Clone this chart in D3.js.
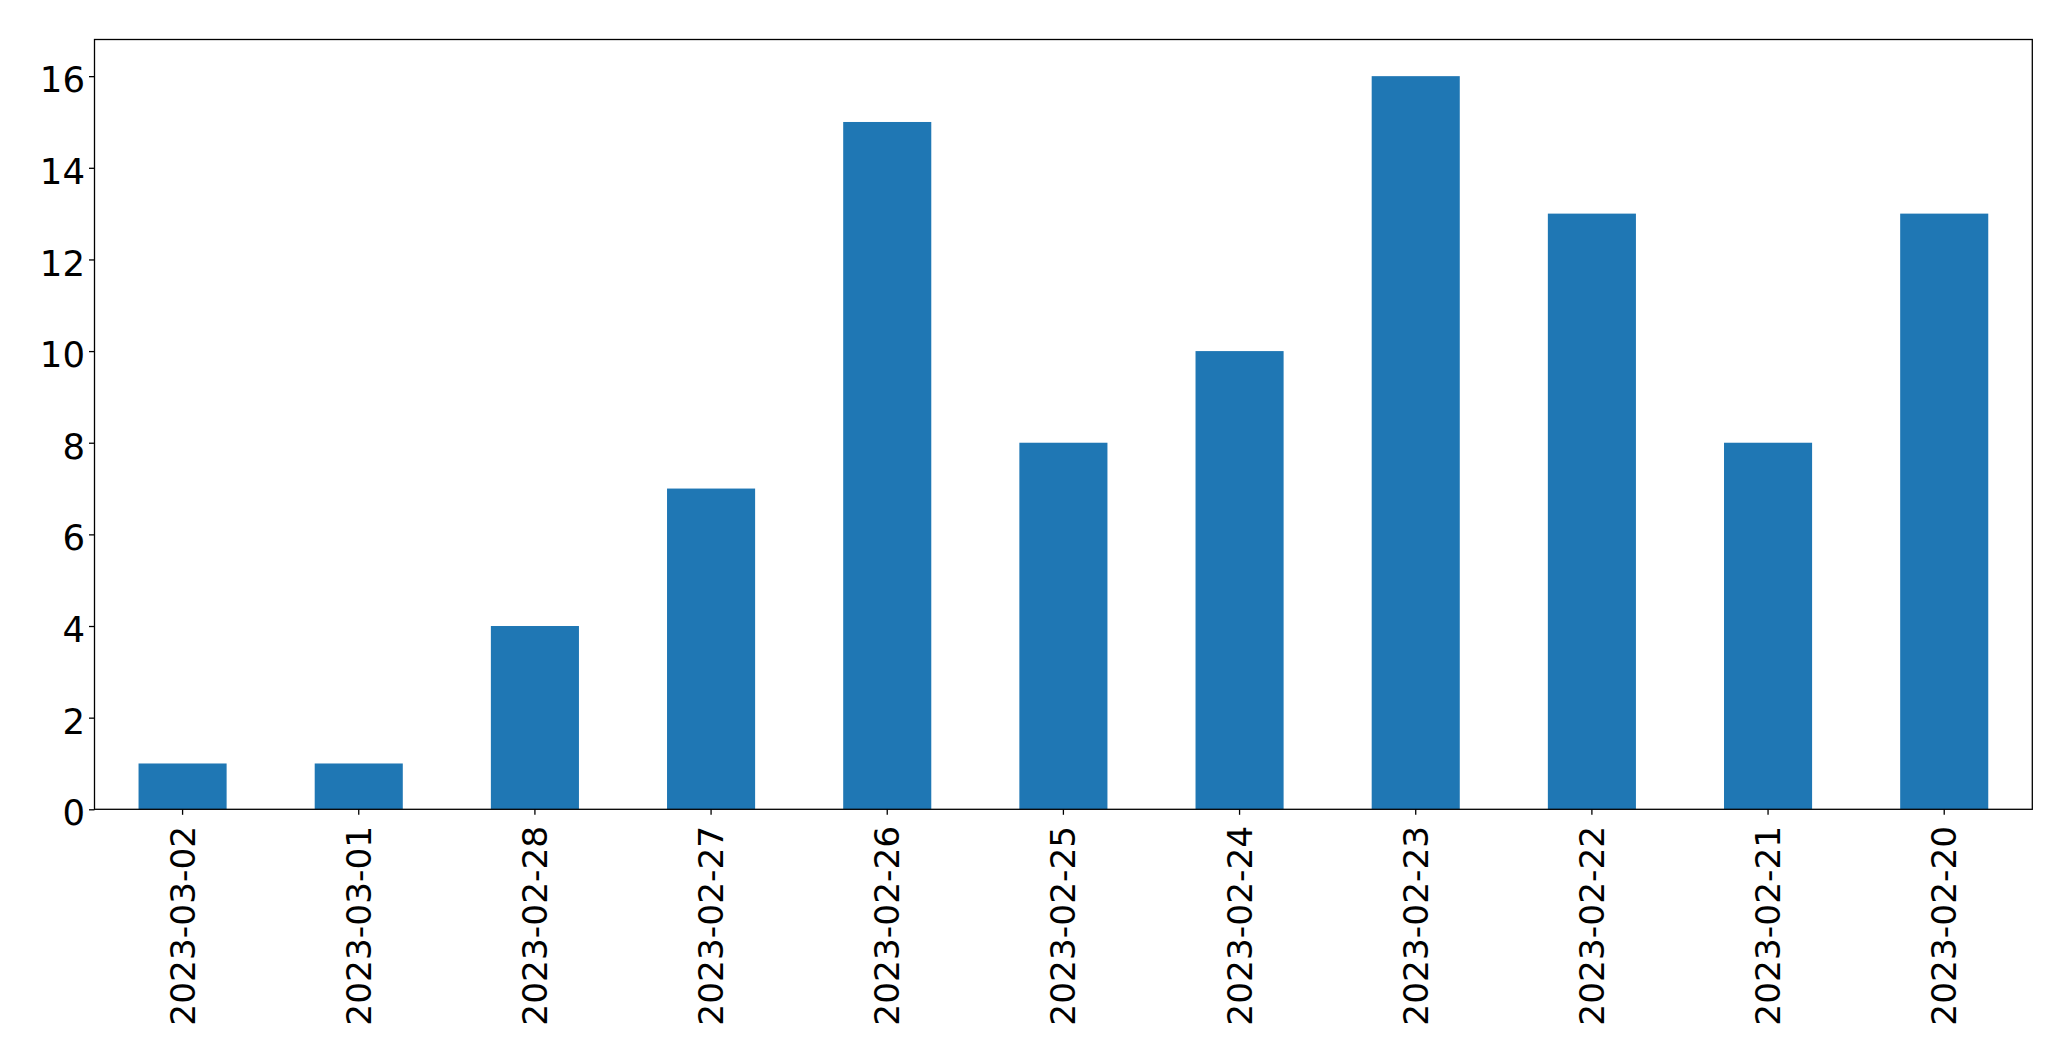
<!DOCTYPE html>
<html>
<head>
<meta charset="utf-8">
<script src="https://cdn.jsdelivr.net/npm/d3@7"></script>
<style>
  html, body { margin: 0; padding: 0; background: #fff; }
  svg { display: block; }
  text { font-family: "DejaVu Sans", sans-serif; fill: #000; }
</style>
</head>
<body>
<svg id="chart" width="2071" height="1061"></svg>
<script>
const categories = ["2023-03-02","2023-03-01","2023-02-28","2023-02-27","2023-02-26","2023-02-25","2023-02-24","2023-02-23","2023-02-22","2023-02-21","2023-02-20"];
const values = [1, 1, 4, 7, 15, 8, 10, 16, 13, 8, 13];
const yTicks = [0, 2, 4, 6, 8, 10, 12, 14, 16];

const plotL = 94.5, plotR = 2032.3, plotT = 39.5, plotB = 809.3;
const yFont = 35.5, xFont = 34.4;

const svg = d3.select("#chart");

const x = d3.scaleBand().domain(categories).range([plotL, plotR]).paddingInner(0.5).paddingOuter(0.25);
const yMax = d3.max(values) * 1.05;
const y = d3.scaleLinear().domain([0, yMax]).range([plotB, plotT]);

svg.append("g").selectAll("rect").data(values).join("rect")
  .attr("x", (d, i) => x(categories[i]))
  .attr("width", x.bandwidth())
  .attr("y", d => y(d))
  .attr("height", d => y(0) - y(d))
  .attr("fill", "#1f77b4");

// frame
svg.append("rect")
  .attr("x", plotL).attr("y", plotT)
  .attr("width", plotR - plotL).attr("height", plotB - plotT)
  .attr("fill", "none").attr("stroke", "#000").attr("stroke-width", 1.3);

// y axis
const yAxis = d3.axisLeft(y).tickValues(yTicks).tickSize(5.5).tickPadding(4).tickFormat(d3.format("d"));
const gy = svg.append("g").attr("transform", `translate(${plotL},0)`).call(yAxis);
gy.select(".domain").remove();
gy.selectAll(".tick line").attr("stroke", "#000").attr("stroke-width", 1.3);
gy.selectAll(".tick text").attr("font-size", yFont).attr("font-family", "DejaVu Sans").attr("fill", "#000")
  .attr("dy", "0.44em");

// x axis
const xAxis = d3.axisBottom(x).tickSize(5.5).tickPadding(0);
const gx = svg.append("g").attr("transform", `translate(0,${plotB})`).call(xAxis);
gx.select(".domain").remove();
gx.selectAll(".tick line").attr("stroke", "#000").attr("stroke-width", 1.3);
gx.selectAll(".tick text")
  .attr("font-size", xFont).attr("font-family", "DejaVu Sans").attr("fill", "#000")
  .attr("text-anchor", "end")
  .attr("dy", null)
  .attr("y", 0)
  .attr("dominant-baseline", "central")
  .attr("transform", "translate(0,16.5) rotate(-90)");
</script>
</body>
</html>
